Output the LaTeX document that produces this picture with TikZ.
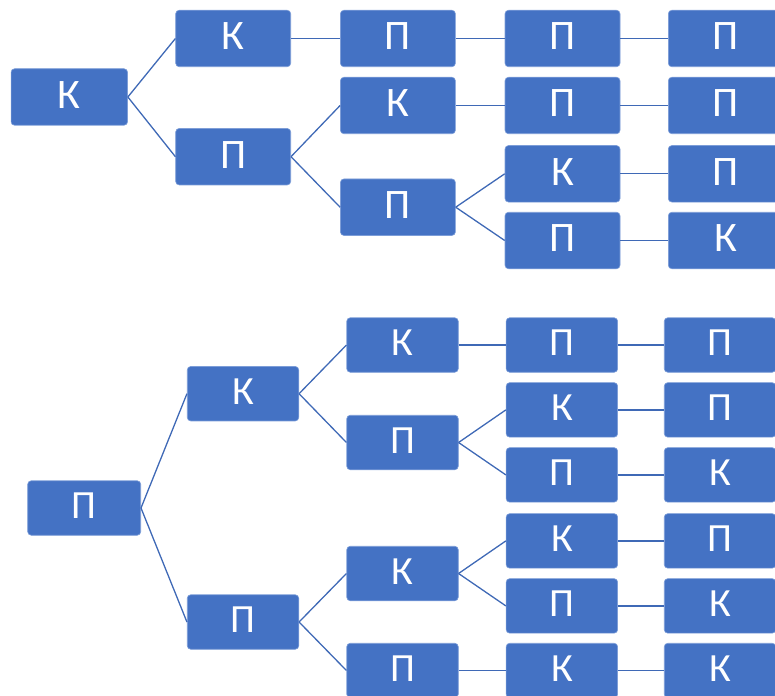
\documentclass[tikz,border=0pt]{standalone}
\usepackage{fontspec}
\setmainfont{Carlito}
\definecolor{boxblue}{HTML}{4472C4}
\definecolor{boxrim}{HTML}{7C9DD8}
\definecolor{linkblue}{HTML}{3F69B6}
\tikzset{
  cell/.style={rectangle, rounded corners=3.5pt, fill=boxblue, draw=boxrim,
    line width=0.6pt, text=white, inner sep=0pt, text depth=4pt},
  bigcell/.style={cell, minimum width=115pt, minimum height=56.5pt,
    font=\fontsize{42}{42}\selectfont},
  smallcell/.style={cell, minimum width=111.5pt, minimum height=54.5pt,
    font=\fontsize{40}{40}\selectfont},
  link/.style={draw=linkblue, line width=1.3pt}
}
\begin{document}
\begin{tikzpicture}[x=1pt, y=-1pt]
\useasboundingbox (0,0) rectangle (775,695);
\clip (0,0) rectangle (775,695);

% ---- first tree (root К) ----
\node[bigcell, minimum width=116.5pt] (tR) at (69.3,97) {К};
\node[bigcell] (t1a) at (233.2,38.5) {К};
\node[bigcell] (t1b) at (233.2,156.7) {П};
\node[bigcell] (t2a) at (397.9,38.5) {П};
\node[bigcell] (t2b) at (397.9,105.5) {К};
\node[bigcell] (t2c) at (397.9,207.2) {П};
\node[bigcell] (t3a) at (562.5,38.5) {П};
\node[bigcell] (t3b) at (562.5,105.5) {П};
\node[bigcell] (t3c) at (562.5,173.8) {К};
\node[bigcell] (t3d) at (562.5,240.5) {П};
\node[bigcell] (t4a) at (725.8,38.5) {П};
\node[bigcell] (t4b) at (725.8,105.5) {П};
\node[bigcell] (t4c) at (725.8,173.8) {П};
\node[bigcell] (t4d) at (725.8,240.5) {К};

\foreach \a/\b in {tR/t1a, tR/t1b, t1a/t2a, t1b/t2b, t1b/t2c,
                   t2a/t3a, t2b/t3b, t2c/t3c, t2c/t3d,
                   t3a/t4a, t3b/t4b, t3c/t4c, t3d/t4d}
  \draw[link] (\a.east) -- (\b.west);

% ---- second tree (root П) ----
\node[smallcell, minimum width=113pt] (bR) at (84.2,508) {П};
\node[smallcell] (b1a) at (243,393.7) {К};
\node[smallcell] (b1b) at (243,622) {П};
\node[smallcell] (b2a) at (402.5,345) {К};
\node[smallcell] (b2b) at (402.5,442.5) {П};
\node[smallcell] (b2c) at (402.5,573.5) {К};
\node[smallcell] (b2d) at (402.5,670.5) {П};
\node[smallcell] (b3a) at (561.9,345) {П};
\node[smallcell] (b3b) at (561.9,409.9) {К};
\node[smallcell] (b3c) at (561.9,474.9) {П};
\node[smallcell] (b3d) at (561.9,540.9) {К};
\node[smallcell] (b3e) at (561.9,605.9) {П};
\node[smallcell] (b3f) at (561.9,670.5) {К};
\node[smallcell] (b4a) at (720,345) {П};
\node[smallcell] (b4b) at (720,409.9) {П};
\node[smallcell] (b4c) at (720,474.9) {К};
\node[smallcell] (b4d) at (720,540.9) {П};
\node[smallcell] (b4e) at (720,605.9) {К};
\node[smallcell] (b4f) at (720,670.5) {К};

\foreach \a/\b in {bR/b1a, bR/b1b, b1a/b2a, b1a/b2b, b1b/b2c, b1b/b2d,
                   b2a/b3a, b2b/b3b, b2b/b3c, b2c/b3d, b2c/b3e, b2d/b3f,
                   b3a/b4a, b3b/b4b, b3c/b4c, b3d/b4d, b3e/b4e, b3f/b4f}
  \draw[link] (\a.east) -- (\b.west);
\end{tikzpicture}
\end{document}
